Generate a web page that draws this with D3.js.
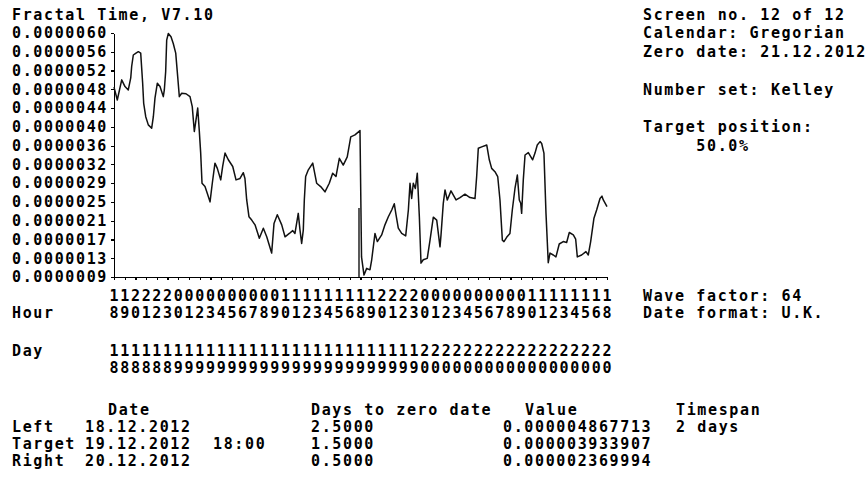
<!DOCTYPE html>
<html>
<head>
<meta charset="utf-8">
<script src="https://cdn.jsdelivr.net/npm/d3@7"></script>
<style>
    body { margin: 0; background: #fff; }
    svg { display: block; }
    text { font-family: "DejaVu Sans Mono", "Liberation Mono", monospace; font-weight: bold; font-size: 15px; letter-spacing: 1.63px; fill: #000; }
</style>
</head>
<body>
<svg id="chart" width="868" height="477"></svg>
<script>
'use strict'

// hours after 18.12.2012 18:00, value in units of 1e-6
const waveHours = [0.00, 0.32, 0.75, 1.07, 1.39, 1.63, 1.72, 1.88, 2.14, 2.37, 2.60, 2.79, 2.89, 3.09, 3.34, 3.67, 3.83, 3.99, 4.22, 4.48, 4.80, 4.90, 5.03, 5.13, 5.29, 5.55, 5.77, 6.01, 6.20, 6.36, 6.59, 7.01, 7.40, 7.62, 7.82, 7.98, 8.15, 8.30, 8.44, 8.57, 8.86, 9.08, 9.35, 9.57, 9.83, 10.06, 10.39, 10.58, 10.81, 11.13, 11.56, 11.88, 12.27, 12.59, 12.75, 12.92, 13.14, 13.41, 13.73, 14.15, 14.54, 14.87, 15.35, 15.58, 15.90, 16.33, 16.65, 17.07, 17.40, 17.62, 17.94, 18.11, 18.27, 18.43, 18.53, 18.66, 18.92, 19.35, 19.73, 20.12, 20.54, 20.96, 21.29, 21.61, 21.94, 22.32, 22.71, 23.05, 23.46, 23.95, 24.10, 24.34, 24.60, 24.92, 25.09, 25.41, 25.64, 26.06, 26.38, 26.71, 27.04, 27.29, 27.46, 27.68, 28.01, 28.40, 28.66, 28.82, 28.98, 29.14, 29.34, 29.53, 29.73, 29.89, 30.11, 30.50, 30.77, 31.09, 31.42, 31.74, 31.84, 32.06, 32.23, 32.45, 32.81, 33.30, 33.69, 34.17, 34.66, 35.15, 35.31, 35.47, 35.80, 36.29, 36.54, 36.77, 37.09, 37.36, 37.58, 37.81, 37.97, 38.23, 38.55, 38.78, 39.04, 39.27, 39.46, 39.60, 39.69, 39.85, 40.02, 40.34, 40.76, 40.99, 41.21, 41.48, 41.64, 41.86, 42.06, 42.28, 42.45, 42.77, 43.03, 43.35, 43.74, 44.07, 44.33, 44.72, 44.95, 45.11, 45.53, 45.95, 46.18, 46.41, 46.73, 46.99, 47.32, 47.51, 47.64, 48.00]
const waveValues = [4.87, 4.60, 5.02, 4.88, 4.81, 5.06, 5.30, 5.54, 5.58, 5.61, 5.58, 4.95, 4.53, 4.25, 4.08, 4.01, 4.25, 4.64, 4.95, 4.88, 4.67, 4.81, 5.19, 5.85, 5.99, 5.92, 5.78, 5.58, 5.09, 4.67, 4.74, 4.73, 4.67, 4.46, 3.94, 4.18, 4.43, 3.97, 3.49, 2.86, 2.79, 2.65, 2.47, 2.86, 3.28, 3.17, 2.93, 3.21, 3.49, 3.35, 3.21, 2.93, 2.96, 3.08, 2.96, 2.51, 2.16, 2.09, 1.99, 1.71, 1.92, 1.74, 1.40, 2.02, 2.20, 1.99, 1.74, 1.81, 1.87, 1.81, 2.23, 1.88, 1.60, 1.88, 2.51, 3.00, 3.14, 3.28, 2.86, 2.79, 2.68, 2.86, 3.07, 3.00, 3.38, 3.24, 3.41, 3.83, 3.87, 3.96, 1.32, 0.94, 1.08, 1.05, 1.26, 1.81, 1.64, 1.78, 1.99, 2.16, 2.30, 2.43, 2.20, 1.92, 1.81, 1.76, 2.30, 2.86, 2.54, 2.86, 2.75, 3.07, 2.16, 1.19, 1.26, 1.29, 1.67, 2.15, 2.09, 1.53, 1.78, 2.44, 2.72, 2.51, 2.70, 2.51, 2.56, 2.63, 2.56, 2.54, 3.00, 3.59, 3.62, 3.66, 3.35, 3.17, 3.10, 3.00, 2.51, 1.67, 1.64, 1.73, 1.81, 2.30, 2.75, 3.03, 2.51, 2.44, 2.23, 2.93, 3.45, 3.50, 3.35, 3.49, 3.66, 3.73, 3.69, 3.49, 2.23, 1.20, 1.40, 1.36, 1.32, 1.59, 1.64, 1.62, 1.83, 1.78, 1.69, 1.32, 1.36, 1.43, 1.36, 1.64, 2.13, 2.30, 2.54, 2.59, 2.51, 2.37]

const yTickLabels = ['0.0000009', '0.0000013', '0.0000017', '0.0000021', '0.0000025', '0.0000029', '0.0000032', '0.0000036', '0.0000040', '0.0000044', '0.0000048', '0.0000052', '0.0000056', '0.0000060']

const hourLabels = ['18', '19', '20', '21', '22', '23',
    '00', '01', '02', '03', '04', '05', '06', '07', '08', '09', '10', '11', '12', '13', '14', '15', '16', '18', '19', '20', '21', '22', '23',
    '00', '01', '02', '03', '04', '05', '06', '07', '08', '09', '10', '11', '12', '13', '14', '15', '16', '18']
const dayLabels = ['18', '18', '18', '18', '18', '18',
    '19', '19', '19', '19', '19', '19', '19', '19', '19', '19', '19', '19', '19', '19', '19', '19', '19', '19', '19', '19', '19', '19', '19',
    '20', '20', '20', '20', '20', '20', '20', '20', '20', '20', '20', '20', '20', '20', '20', '20', '20', '20']

const targetHour = 24
const targetMarkTop = 2.34

const infoLines = ['Screen no. 12 of 12', 'Calendar: Gregorian', 'Zero date: 21.12.2012', '', 'Number set: Kelley', '', 'Target position:', '     50.0%']
const footLines = ['Wave factor: 64', 'Date format: U.K.']

const tableHead = ['Date', 'Days to zero date', 'Value', 'Timespan']
const tableRows = [
    ['Left', '18.12.2012', '', '2.5000', '0.000004867713', '2 days'],
    ['Target', '19.12.2012', '18:00', '1.5000', '0.000003933907', ''],
    ['Right', '20.12.2012', '', '0.5000', '0.000002369994', '']
]

let svg = d3.select('#chart')
svg.append('rect').attr('width', 868).attr('height', 477).attr('fill', '#fff')

let margin = { left: 114, right: 607, top: 33, bottom: 277 }

let x = d3.scaleLinear().domain([0, 48]).range([margin.left, margin.right])
let y = d3.scaleLinear().domain([0.9, 6.0]).range([margin.bottom, margin.top])

let yTicks = yTickLabels.map((d, i) => 0.9 + i * (6.0 - 0.9) / (yTickLabels.length - 1))
let xTicks = hourLabels.map((d, i) => i * 48 / (hourLabels.length - 1))

let row = (r) => 14.3 + 18.75 * r

// title
svg.append('text').attr('x', 12).attr('y', row(0)).attr('dy', '0.36em').text('Fractal Time, V7.10')

// axes
let yAxis = svg.append('g')
    .attr('transform', `translate(${margin.left},0)`)
    .call(d3.axisLeft(y).tickValues(yTicks).tickFormat((d, i) => yTickLabels[i]).tickSize(3).tickSizeOuter(0).tickPadding(3))

let xAxis = svg.append('g')
    .attr('transform', `translate(0,${margin.bottom})`)
    .call(d3.axisBottom(x).tickValues(xTicks).tickFormat('').tickSize(3).tickSizeOuter(0))

svg.selectAll('.domain, .tick line').attr('stroke', '#000').attr('stroke-width', 1.2).attr('shape-rendering', 'crispEdges')
yAxis.selectAll('text').attr('font-family', null).attr('font-size', null).attr('fill', null)

// target marker
svg.append('line')
    .attr('x1', x(targetHour) - 1.5).attr('x2', x(targetHour) - 1.5)
    .attr('y1', y(0.9)).attr('y2', y(targetMarkTop))
    .attr('stroke', '#000').attr('stroke-width', 1.3)

// wave line
let line = d3.line().x(d => x(d[0])).y(d => y(d[1]))

svg.append('path')
    .datum(waveHours.map((h, i) => [h, waveValues[i]]))
    .attr('d', line)
    .attr('fill', 'none')
    .attr('stroke', '#111')
    .attr('stroke-width', 1.5)
    .attr('stroke-linejoin', 'round')

// hour / day rows, one character per tick
let charRow = (labels, pos, yy) => {
    svg.append('g').selectAll('text').data(labels).enter().append('text')
        .attr('x', (d, i) => x(xTicks[i]))
        .attr('y', yy)
        .attr('dy', '0.36em')
        .attr('text-anchor', 'middle')
        .style('letter-spacing', '0px')
        .text(d => d[pos])
}

charRow(hourLabels, 0, 296)
charRow(hourLabels, 1, 313)
charRow(dayLabels, 0, 351)
charRow(dayLabels, 1, 368)

svg.append('text').attr('x', 12).attr('y', 313).attr('dy', '0.36em').text('Hour')
svg.append('text').attr('x', 12).attr('y', 351).attr('dy', '0.36em').text('Day')

// info panel
svg.append('g').selectAll('text').data(infoLines).enter().append('text')
    .attr('x', 643)
    .attr('y', (d, i) => row(i))
    .attr('dy', '0.36em')
    .attr('xml:space', 'preserve')
    .text(d => d)

svg.append('g').selectAll('text').data(footLines).enter().append('text')
    .attr('x', 643)
    .attr('y', (d, i) => 296 + 17 * i)
    .attr('dy', '0.36em')
    .text(d => d)

// table
let headX = [108, 311, 525, 676]
let colX = [12, 85, 213, 311, 503, 676]

svg.append('g').selectAll('text').data(tableHead).enter().append('text')
    .attr('x', (d, i) => headX[i])
    .attr('y', 410)
    .attr('dy', '0.36em')
    .text(d => d)

tableRows.forEach((r, j) => {
    svg.append('g').selectAll('text').data(r).enter().append('text')
        .attr('x', (d, i) => colX[i])
        .attr('y', 427 + 16.7 * j)
        .attr('dy', '0.36em')
        .text(d => d)
})
</script>
</body>
</html>
